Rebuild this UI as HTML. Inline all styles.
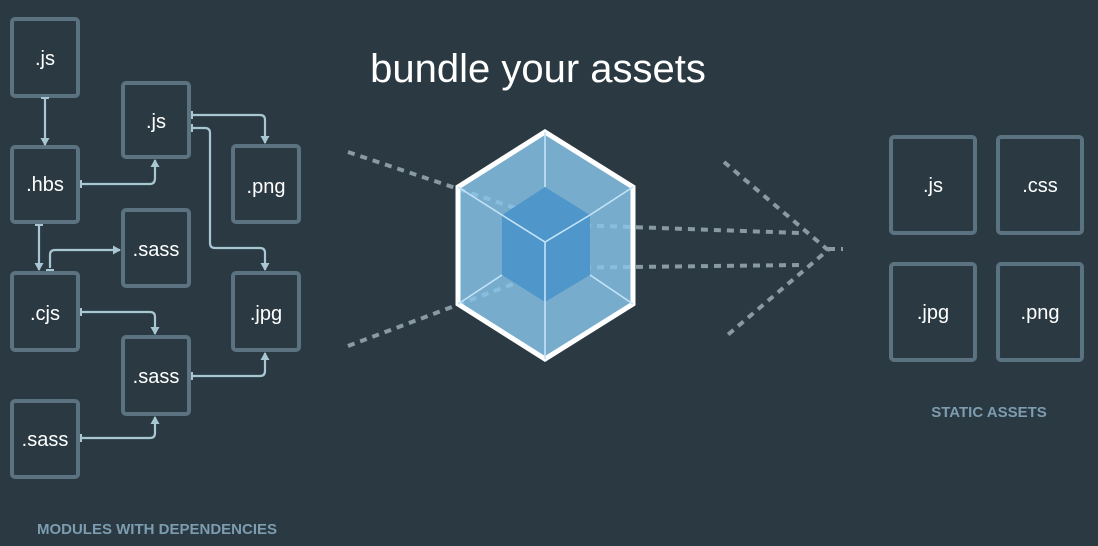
<!DOCTYPE html>
<html><head><meta charset="utf-8"><style>
html,body{margin:0;padding:0;background:#2b3a42;}
svg{display:block}
text{font-family:"Liberation Sans",sans-serif;}
</style></head><body>
<svg width="1098" height="546" viewBox="0 0 1098 546" xmlns="http://www.w3.org/2000/svg">
<rect width="1098" height="546" fill="#2b3a42"/>
<defs>
<marker id="a" markerWidth="10" markerHeight="10" refX="7" refY="4.5" orient="auto" markerUnits="userSpaceOnUse">
<path d="M0,0 L8,4.5 L0,9 Z" fill="#a9c6d3"/></marker>
</defs>
<text x="538" y="82" font-size="40" fill="#ffffff" text-anchor="middle">bundle your assets</text>
<!-- dashed lines -->
<g stroke="#8a9aa2" stroke-width="4" stroke-dasharray="7,6" fill="none">
<line x1="348" y1="152" x2="545" y2="218"/>
<line x1="348" y1="346" x2="545" y2="272"/>
<line x1="545" y1="224" x2="800" y2="233"/>
<line x1="545" y1="268" x2="800" y2="265"/>
<path d="M724,162 L828,250 L724,338"/>
<line x1="828" y1="249" x2="843" y2="249"/>
</g>
<!-- hexagon -->
<polygon points="545,132 633,187 633,304 545,359 458,304 458,187" fill="#8ac6ec" fill-opacity="0.82" stroke="#fff" stroke-width="5" stroke-linejoin="miter"/>
<polygon points="545,187 590,215 590,275 545,302 502,275 502,215" fill="#4f97cb"/>
<g stroke="#c4e4f7" stroke-width="1.6" fill="none">
<line x1="545" y1="132" x2="545" y2="187"/>
<line x1="458" y1="187" x2="502" y2="215"/>
<line x1="633" y1="187" x2="590" y2="215"/>
<line x1="458" y1="304" x2="502" y2="275"/>
<line x1="633" y1="304" x2="590" y2="275"/>
<line x1="545" y1="359" x2="545" y2="302"/>
<polyline points="502,215 545,242 590,215"/>
<line x1="545" y1="242" x2="545" y2="302"/>
</g>
<!-- boxes -->
<g fill="none" stroke="#5b7380" stroke-width="4">
<rect x="12" y="19" width="66" height="77" rx="3"/>
<rect x="12" y="147" width="66" height="75" rx="3"/>
<rect x="123" y="83" width="66" height="74" rx="3"/>
<rect x="233" y="146" width="66" height="76" rx="3"/>
<rect x="123" y="210" width="66" height="76" rx="3"/>
<rect x="12" y="273" width="66" height="77" rx="3"/>
<rect x="233" y="273" width="66" height="77" rx="3"/>
<rect x="123" y="337" width="66" height="77" rx="3"/>
<rect x="12" y="401" width="66" height="76" rx="3"/>
<rect x="891" y="137" width="84" height="96" rx="3"/>
<rect x="998" y="137" width="84" height="96" rx="3"/>
<rect x="891" y="264" width="84" height="96" rx="3"/>
<rect x="998" y="264" width="84" height="96" rx="3"/>
</g>
<g fill="#fff" font-size="20" text-anchor="middle">
<text x="45" y="65">.js</text>
<text x="45" y="191">.hbs</text>
<text x="156" y="128">.js</text>
<text x="266" y="193">.png</text>
<text x="156" y="256">.sass</text>
<text x="45" y="320">.cjs</text>
<text x="266" y="320">.jpg</text>
<text x="156" y="383">.sass</text>
<text x="45" y="446">.sass</text>
<text x="933" y="192">.js</text>
<text x="1040" y="192">.css</text>
<text x="933" y="319">.jpg</text>
<text x="1040" y="319">.png</text>
</g>
<!-- connectors -->
<g stroke="#a9c6d3" stroke-width="2.2" fill="none" marker-end="url(#a)">
<path d="M45,98 L45,145"/>
<path d="M81,184 L150,184 Q155,184 155,178 L155,160"/>
<path d="M192,115 L260,115 Q265,115 265,120 L265,143"/>
<path d="M192,128 L205,128 Q210,128 210,133 L210,243 Q210,248 215,248 L260,248 Q265,248 265,253 L265,270"/>
<path d="M39,224 L39,270"/>
<path d="M50,268 L50,255 Q50,250 55,250 L120,250"/>
<path d="M81,312 L150,312 Q155,312 155,317 L155,334"/>
<path d="M192,376 L260,376 Q265,376 265,371 L265,353"/>
<path d="M81,438 L150,438 Q155,438 155,433 L155,417"/>
</g>
<g stroke="#a9c6d3" stroke-width="2">
<line x1="81" y1="180" x2="81" y2="188"/>
<line x1="192" y1="111" x2="192" y2="119"/>
<line x1="192" y1="124" x2="192" y2="132"/>
<line x1="41" y1="98" x2="49" y2="98"/>
<line x1="35" y1="225" x2="43" y2="225"/>
<line x1="46" y1="270" x2="54" y2="270"/>
<line x1="81" y1="308" x2="81" y2="316"/>
<line x1="192" y1="372" x2="192" y2="380"/>
<line x1="81" y1="434" x2="81" y2="442"/>
</g>
<text x="157" y="534" font-size="15" font-weight="bold" fill="#7d9cb0" text-anchor="middle">MODULES WITH DEPENDENCIES</text>
<text x="989" y="417" font-size="15" font-weight="bold" fill="#7d9cb0" text-anchor="middle">STATIC ASSETS</text>
</svg>
</body></html>
